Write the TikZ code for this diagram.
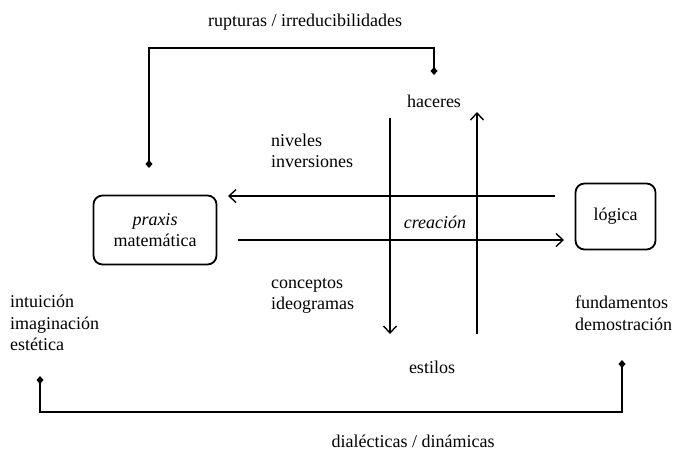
\documentclass[tikz,border=0pt]{standalone}
\usepackage{fontspec}
\setmainfont{Liberation Serif}
\usetikzlibrary{arrows.meta}
\begin{document}
\begin{tikzpicture}[x=1pt,y=-1pt,
  every node/.style={font=\fontsize{18}{21.5}\selectfont, inner sep=0pt},
  lbl/.style={align=left, anchor=west},
  box/.style={draw, line width=1.8pt, rounded corners=9pt},
  conn/.style={line width=1.4pt},
  dia/.style={conn, {Diamond[length=8pt,width=7pt]}-{Diamond[length=8pt,width=7pt]}},
  arr/.style={conn, -{Straight Barb[length=7pt,width=13pt,line width=1.4pt]}}]
\useasboundingbox (0,0) rectangle (676,456);
% boxes
\node[box, minimum width=123pt, minimum height=69pt, align=center] (praxis) at (155,230) {\textit{praxis}\\matemática};
\node[box, minimum width=80pt, minimum height=66pt] (logica) at (615.5,216.5) {lógica};
% labels
\node (rupt) at (305,22) {rupturas / irreducibilidades};
\node (haceres) at (434,101) {haceres};
\node[lbl] (niveles) at (271,151) {niveles\\inversiones};
\node (creacion) at (435,222) {\textit{creación}};
\node[lbl] (conceptos) at (271,296) {conceptos\\ideogramas};
\node[lbl] (intuicion) at (10,323) {intuición\\imaginación\\estética};
\node[lbl] (fundamentos) at (575,313) {fundamentos\\demostración};
\node (estilos) at (432,367) {estilos};
\node (dialect) at (413,441) {dialécticas / dinámicas};
% connector coordinates
\coordinate (tl) at (149,168);
\coordinate (tr) at (434,75);
\coordinate (bl) at (40,376);
\coordinate (br) at (622,360);
\coordinate (dTop) at (390,118);
\coordinate (dBot) at (390,334);
\coordinate (uBot) at (477,334);
\coordinate (uTop) at (477,112);
\coordinate (hR) at (555,196);
\coordinate (hL) at (228,196);
\coordinate (lL) at (238,240);
\coordinate (lR) at (564,240);
% top and bottom brackets
\draw[dia] (tl) -- (tl |- 0,48) -| (tr);
\draw[dia] (bl) -- (bl |- 0,412) -| (br);
% cross arrows
\draw[arr] (dTop) -- (dBot);
\draw[arr] (uBot) -- (uTop);
\draw[arr] (hR) -- (hL);
\draw[arr] (lL) -- (lR);
\end{tikzpicture}
\end{document}
